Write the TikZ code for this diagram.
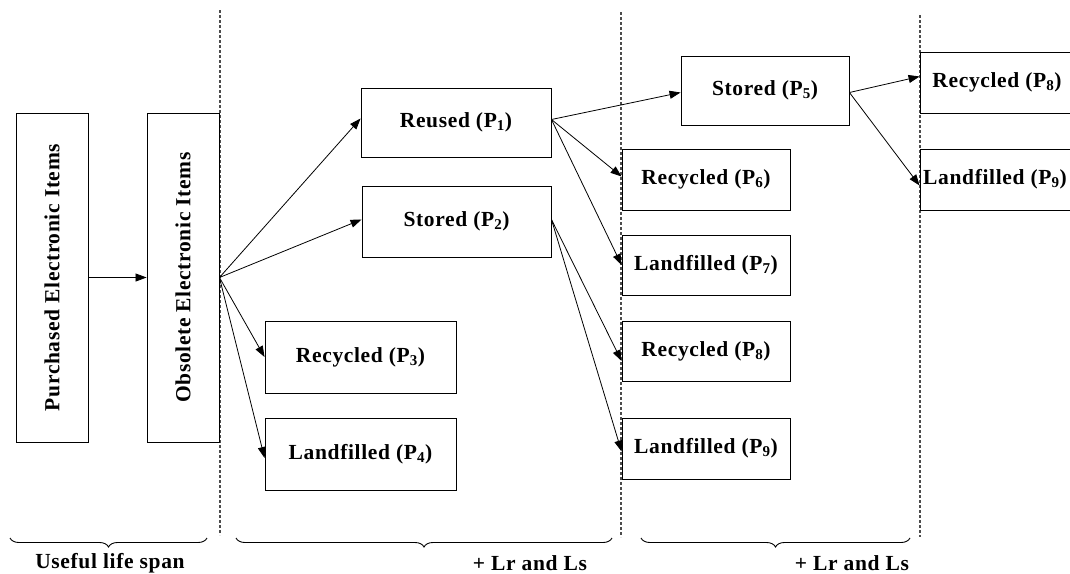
\documentclass[tikz,border=0pt]{standalone}
\usepackage{fontspec}
\setmainfont{Liberation Serif}[LetterSpace=3]
\usetikzlibrary{arrows.meta,decorations.pathreplacing}
\begin{document}
\begin{tikzpicture}[x=1pt,y=-1pt,
 box/.style={draw,line width=0.9pt,inner sep=0pt,fill=white,font=\fontsize{21.5}{24}\selectfont\bfseries},
 arr/.style={-{Triangle[length=11pt,width=8pt]},line width=0.8pt},
 sep/.style={gray!60!black,line width=1.3pt,dash pattern=on 2.5pt off 2.5pt},
 brc/.style={decorate,decoration={brace,amplitude=9pt,mirror},line width=0.9pt},
 lab/.style={font=\fontsize{21.5}{24}\selectfont\bfseries}]
\useasboundingbox (0,0) rectangle (1070,573);
\clip (0,0) rectangle (1070,573);
% separators
\coordinate (s1a) at (220,10);  \coordinate (s1b) at (220,535);
\coordinate (s2a) at (621,12);  \coordinate (s2b) at (621,537);
\coordinate (s3a) at (920,15);  \coordinate (s3b) at (920,537);
\draw[sep] (s1a) -- (s1b);
\draw[sep] (s2a) -- (s2b);
\draw[sep] (s3a) -- (s3b);
% boxes
\node[box,minimum width=72,minimum height=329] (pur) at (52,277.5) {\rotatebox{90}{Purchased Electronic Items}};
\node[box,minimum width=72,minimum height=329] (obs) at (183,277.5) {\rotatebox{90}{Obsolete Electronic Items}};
\node[box,minimum width=190,minimum height=69] (p1) at (456,122.5) {Reused (P\textsubscript{1})};
\node[box,minimum width=189,minimum height=71] (p2) at (456.5,221.5) {Stored (P\textsubscript{2})};
\node[box,minimum width=191,minimum height=72] (p3) at (360.5,357) {Recycled (P\textsubscript{3})};
\node[box,minimum width=191,minimum height=72] (p4) at (360.5,454) {Landfilled (P\textsubscript{4})};
\node[box,minimum width=168,minimum height=69] (p5) at (765,90.5) {Stored (P\textsubscript{5})};
\node[box,minimum width=168,minimum height=61] (p6) at (706,179.5) {Recycled (P\textsubscript{6})};
\node[box,minimum width=168,minimum height=60] (p7) at (706,265) {Landfilled (P\textsubscript{7})};
\node[box,minimum width=168,minimum height=60] (p8) at (706,351) {Recycled (P\textsubscript{8})};
\node[box,minimum width=168,minimum height=61] (p9) at (706,448.5) {Landfilled (P\textsubscript{9})};
\node[box,minimum width=164,minimum height=61] (r8) at (1002,82.5) {Recycled (P\textsubscript{8})\hspace*{10pt}};
\node[box,minimum width=164,minimum height=61] (r9) at (1002,179.5) {Landfilled (P\textsubscript{9})\hspace*{14pt}};
% arrows
\draw[arr] (pur.east) -- (obs.west);
\draw[arr] (obs.east) -- ([yshift=4]p1.west);
\draw[arr] (obs.east) -- ([yshift=2]p2.west);
\draw[arr] (obs.east) -- (p3.west);
\draw[arr] (obs.east) -- ([yshift=-4]p4.west);
\draw[arr] ([yshift=3]p1.east) -- ([yshift=-2]p5.west);
\draw[arr] ([yshift=3]p1.east) -- ([yshift=3]p6.west);
\draw[arr] ([yshift=3]p1.east) -- (p7.west);
\draw[arr] ([yshift=2]p2.east) -- ([yshift=-10]p8.west);
\draw[arr] ([yshift=2]p2.east) -- ([yshift=-3]p9.west);
\draw[arr] ([yshift=-2]p5.east) -- ([yshift=6]r8.west);
\draw[arr] ([yshift=-2]p5.east) -- ([yshift=-6]r9.west);
% braces
\coordinate (b1a) at (10,538);  \coordinate (b1b) at (207,538);
\coordinate (b2a) at (236,538); \coordinate (b2b) at (612,538);
\coordinate (b3a) at (641,538); \coordinate (b3b) at (910,538);
\draw[brc] (b1a) -- (b1b);
\draw[brc] (b2a) -- (b2b);
\draw[brc] (b3a) -- (b3b);
\node[lab] (l1) at (110,563) {Useful life span};
\node[lab] (l2) at (530,563) {+ Lr and Ls};
\node[lab] (l3) at (852,563) {+ Lr and Ls};
\end{tikzpicture}
\end{document}
